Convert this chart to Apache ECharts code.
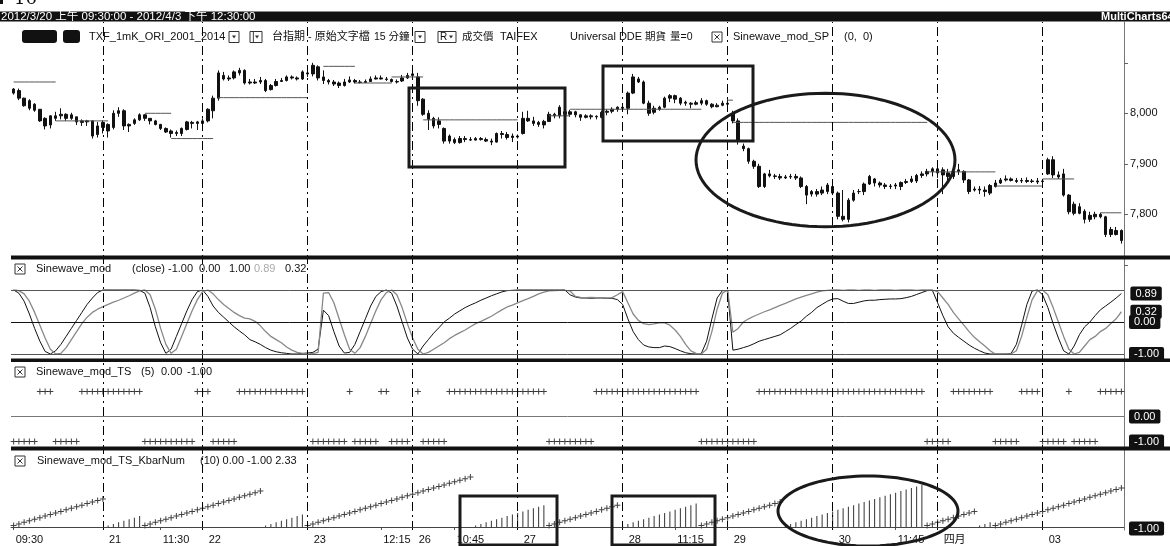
<!DOCTYPE html>
<html><head><meta charset="utf-8">
<script src="https://cdn.jsdelivr.net/npm/echarts@6/dist/echarts.min.js"></script>
<style>html,body{margin:0;padding:0;background:#fff;}#c{width:1170px;height:546px;}</style>
</head><body><div id="c"></div>
<script>
// ---------- DATA ----------
const dayDefs = [['03/20',17,'09:30'],['03/21',19,'08:45'],['03/22',20,'08:45'],['03/23',20,'08:45'],['03/26',20,'08:45'],['03/27',20,'08:45'],['03/28',20,'08:45'],['03/29',20,'08:45'],['03/30',20,'08:45'],['04/02',20,'08:45'],['04/03',16,'08:45']];
const axisMarks = {0:['t','09:30'],17:['d','21'],28:['t','11:30'],36:['d','22'],56:['d','23'],70:['t','12:15'],76:['d','26'],84:['t','10:45'],96:['d','27'],116:['d','28'],126:['t','11:15'],136:['d','29'],156:['d','30'],168:['t','11:45'],176:['d','四月'],196:['d','03']};
const dayStarts = [17,36,56,76,96,116,136,156,176,196];

const opens = [8048,8045,8030,8025,8018,8008,7990,7977,7990,7995,7998,7990,7993,7985,7983,7985,7958,
7972,7978,7972,8000,8005,7978,7980,7987,7997,7990,7985,7978,7970,7965,7960,7960,7968,7982,7980,
7980,7985,8005,8030,8075,8068,8070,8080,8085,8062,8060,8062,8065,8047,8055,8063,8065,8072,8070,8068,
8080,8078,8092,8072,8065,8062,8060,8055,8062,8065,8062,8061,8063,8068,8070,8068,8067,8063,8064,8070,
8078,8072,8028,8000,7990,7985,7970,7955,7948,7942,7950,7948,7947,7950,7948,7945,7943,7960,7958,7952,
7955,7960,7990,7985,7982,7977,7984,7998,7995,8003,7998,8003,7997,7992,7995,7993,7992,8002,8004,8008,
8012,8010,8040,8068,8062,8020,8002,8008,8012,8030,8035,8030,8022,8020,8018,8020,8025,8018,8013,8016,
8020,8000,7985,7935,7930,7905,7895,7855,7880,7876,7875,7872,7874,7875,7872,7855,7840,7845,7842,7845,
7855,7842,7796,7790,7828,7845,7845,7860,7870,7862,7858,7855,7856,7855,7863,7865,7866,7877,7880,7885,
7890,7888,7882,7875,7885,7885,7868,7848,7850,7848,7842,7855,7862,7868,7870,7867,7866,7867,7865,7866,
7865,7880,7908,7878,7880,7838,7820,7802,7806,7790,7795,7800,7795,7770,7760,7768];
const closes = [8040,8030,8015,8010,8006,7985,7975,7995,7995,7998,7990,7997,7983,7982,7985,7955,7975,
7982,7965,8000,8005,7975,7975,7987,7997,7990,7985,7978,7970,7963,7960,7962,7970,7983,7980,7983,
7985,8008,8030,8080,8068,8070,8082,8085,8060,8060,8062,8065,8045,8055,8063,8065,8072,8070,8068,8082,
8078,8095,8070,8065,8062,8058,8055,8062,8066,8062,8061,8063,8068,8070,8068,8067,8063,8062,8070,8075,
8075,8025,7998,7988,7975,7978,7945,7945,7942,7950,7948,7947,7950,7948,7945,7943,7960,7958,7952,7955,
7953,7990,7985,7980,7978,7984,7998,7995,8012,7998,8003,7997,7992,7995,7993,7994,8002,8004,8008,8012,
8010,8040,8072,8062,8020,8000,8010,8012,8030,8035,8028,8020,8020,8018,8021,8025,8018,8013,8016,8020,
8018,7985,7945,7930,7905,7895,7855,7880,7876,7875,7872,7874,7875,7872,7855,7838,7845,7840,7848,7858,
7842,7796,7790,7828,7842,7845,7860,7875,7862,7858,7855,7856,7858,7863,7865,7870,7877,7880,7885,7890,
7882,7878,7875,7885,7888,7868,7845,7850,7848,7845,7857,7862,7868,7870,7867,7865,7867,7865,7866,7864,
7866,7908,7878,7874,7838,7805,7802,7815,7790,7798,7800,7795,7760,7760,7768,7748];
const lows = [8037,8026,8013,8006,8003,7983,7968,7970,7985,7988,7985,7987,7977,7975,7975,7950,7952,
7960,7952,7968,7993,7967,7963,7977,7985,7985,7978,7976,7967,7961,7952,7955,7955,7966,7970,7967,
7970,7982,7990,8025,8065,8064,8067,8075,8057,8057,8058,8058,8042,8045,8053,8062,8063,8067,8065,8066,
8072,8073,8065,8058,8057,8054,8050,8053,8060,8059,8059,8060,8062,8067,8067,8064,8061,8059,8062,8068,
8068,8015,7995,7967,7970,7970,7940,7940,7939,7940,7943,7945,7946,7946,7943,7937,7942,7950,7948,7943,
7950,7958,7983,7975,7973,7970,7983,7990,7990,7990,7993,7992,7985,7990,7988,7988,7990,7996,8000,8003,
8006,7998,8038,8060,8018,7995,7998,8005,8010,8022,8020,8016,8015,8010,8016,8016,8015,8010,8012,8014,
8010,7980,7938,7925,7900,7890,7852,7852,7873,7870,7868,7870,7870,7868,7852,7820,7835,7835,7838,7840,
7838,7790,7786,7784,7825,7840,7838,7858,7855,7853,7850,7850,7850,7848,7860,7862,7862,7872,7875,7875,
7872,7840,7860,7870,7878,7862,7840,7845,7840,7835,7838,7853,7860,7865,7865,7862,7862,7862,7862,7860,
7860,7878,7872,7870,7835,7800,7798,7800,7782,7785,7790,7792,7755,7755,7758,7742];
const highs = [8050,8049,8031,8028,8020,8008,7992,7996,8003,8010,8000,8001,7993,7988,7987,7986,7983,
7986,7980,8006,8012,8008,7980,7990,8000,7998,7990,7987,7979,7972,7968,7966,7972,7985,7985,7985,
7990,8010,8035,8085,8082,8075,8085,8090,8087,8068,8068,8072,8068,8058,8068,8070,8075,8075,8073,8085,
8090,8100,8095,8085,8068,8066,8063,8068,8073,8068,8066,8067,8073,8075,8075,8072,8069,8067,8076,8080,
8095,8080,8030,8006,7993,7992,7972,7958,7952,7955,7955,7953,7953,7953,7952,7950,7962,7965,7963,7960,
7958,8003,8005,7993,7985,7987,8003,8001,8016,8005,8007,8005,7998,7998,7998,7996,8005,8008,8012,8014,
8018,8043,8078,8072,8065,8025,8015,8015,8033,8038,8037,8032,8025,8022,8025,8030,8027,8020,8020,8025,
8028,8005,7990,7940,7932,7908,7900,7882,7888,7880,7880,7878,7880,7880,7875,7858,7848,7850,7855,7862,
7864,7845,7848,7832,7848,7850,7863,7878,7872,7865,7862,7860,7862,7865,7870,7876,7880,7885,7890,7893,
7897,7893,7890,7890,7900,7887,7870,7855,7856,7855,7860,7868,7872,7877,7873,7872,7872,7873,7870,7872,
7870,7912,7915,7885,7890,7840,7825,7822,7810,7805,7805,7803,7797,7775,7775,7770];

// Sinewave_mod_SP support/resistance levels: [firstBar, lastBar, price]
const spLevels = [[0,8,8062],[8,18,7985],[25,30,8000],[30,38,7950],[39,56,8031],[59,65,8093],[65,72,8060],[72,78,8072],[78,96,7987],[102,106,7995],[106,131,8008],[136,137,8026],[137,174,7982],[174,187,7884],[187,196,7856],[196,202,7870],[207,211,7803]];

const sineLead = [1.0,0.9,0.65,0.25,-0.2,-0.6,-0.92,-1.0,-0.9,-0.7,-0.45,-0.2,0.05,0.3,0.55,0.75,0.92,1.0,1.0,1.0,
1.0,1.0,1.0,1.0,0.99,0.9,0.45,-0.15,-0.65,-0.98,-0.85,-0.45,-0.05,0.35,0.7,0.95,1.0,0.8,0.5,0.3,
0.15,0.0,-0.15,-0.28,-0.4,-0.55,-0.62,-0.7,-0.8,-0.88,-0.93,-0.96,-0.98,-1.0,-1.0,-0.98,-0.97,-0.95,-0.85,0.37,
0.2,-0.3,-0.75,-0.97,-0.95,-0.7,-0.3,0.1,0.5,0.8,0.95,1.0,0.9,0.5,0.0,-0.5,-0.85,-1.0,-0.75,-0.55,
-0.35,-0.18,0.0,0.12,0.25,0.35,0.45,0.53,0.6,0.68,0.75,0.82,0.88,0.94,0.98,0.99,1.0,1.0,1.0,1.0,
1.0,1.0,1.0,1.0,1.0,1.0,0.85,0.78,0.75,0.75,0.74,0.75,0.75,0.74,0.74,0.7,0.55,0.1,-0.3,-0.55,
-0.72,-0.78,-0.8,-0.8,-0.75,-0.77,-0.83,-0.9,-0.96,-0.99,-1.0,-0.98,-0.6,0.1,0.75,0.98,0.98,-0.88,-0.85,-0.8,
-0.75,-0.68,-0.6,-0.55,-0.5,-0.45,-0.4,-0.3,-0.2,-0.08,0.03,0.18,0.3,0.45,0.55,0.65,0.72,0.73,0.65,0.58,
0.58,0.62,0.66,0.68,0.68,0.7,0.71,0.72,0.72,0.73,0.76,0.8,0.86,0.92,0.98,0.99,0.6,0.2,-0.15,-0.35,
-0.48,-0.6,-0.72,-0.82,-0.9,-0.97,-1.0,-1.0,-1.0,-1.0,-0.98,-0.7,-0.1,0.55,0.97,1.0,0.85,0.45,-0.05,-0.5,
-0.9,-1.0,-0.75,-0.4,-0.15,0.0,0.2,0.38,0.5,0.62,0.75,0.89];
const sineLag = [1.0,0.98,0.88,0.65,0.3,-0.1,-0.5,-0.85,-1.0,-0.98,-0.8,-0.55,-0.3,-0.05,0.15,0.3,0.4,0.48,0.55,0.62,
0.68,0.75,0.82,0.9,0.97,1.0,0.85,0.4,-0.2,-0.7,-0.98,-0.85,-0.45,-0.05,0.35,0.7,0.95,1.0,0.88,0.7,
0.55,0.42,0.3,0.2,0.12,0.1,0.02,-0.12,-0.3,-0.45,-0.55,-0.65,-0.78,-0.88,-0.95,-0.98,-0.99,-0.99,-0.95,0.9,
0.92,0.6,0.1,-0.4,-0.85,-0.98,-0.8,-0.45,-0.05,0.35,0.7,0.92,1.0,0.85,0.45,-0.05,-0.5,-0.85,-1.0,-0.95,
-0.85,-0.75,-0.65,-0.52,-0.42,-0.33,-0.25,-0.15,-0.05,0.02,0.1,0.18,0.28,0.38,0.47,0.53,0.6,0.67,0.73,0.8,
0.88,0.93,0.97,0.98,0.99,0.99,0.97,0.8,0.77,0.76,0.77,0.76,0.76,0.75,0.76,0.85,0.95,0.6,0.25,0.05,
-0.05,-0.08,-0.06,-0.03,-0.03,-0.1,-0.25,-0.45,-0.7,-0.9,-0.98,-1.0,-0.85,-0.3,0.4,0.9,1.0,-0.32,-0.2,0.0,
0.1,0.18,0.25,0.32,0.38,0.45,0.52,0.58,0.65,0.72,0.78,0.83,0.88,0.93,0.97,0.99,1.0,1.0,0.99,1.0,
1.0,0.99,1.0,1.0,0.99,1.0,1.0,1.0,0.99,1.0,1.0,1.0,0.99,1.0,1.0,1.0,0.95,0.75,0.55,0.3,
0.1,-0.1,-0.3,-0.48,-0.62,-0.75,-0.9,-1.0,-1.0,-1.0,-1.0,-0.9,-0.45,0.15,0.7,0.97,1.0,0.85,0.45,0.0,
-0.45,-0.85,-1.0,-0.95,-0.75,-0.55,-0.45,-0.3,-0.2,-0.05,0.1,0.32];

// Sinewave_mod_TS state: [firstBar, lastBar, value]
const tsStates = [[0,4,-1],[5,7,1],[8,12,-1],[13,24,1],[25,34,-1],[35,37,1],[38,42,-1],[43,55,1],[57,63,-1],[64,64,1],[65,69,-1],[70,71,1],[72,75,-1],[77,77,1],[78,82,-1],[83,101,1],[102,110,-1],[111,130,1],[131,141,-1],[142,173,1],[174,178,-1],[179,186,1],[187,191,-1],[192,195,1],[196,200,-1],[201,201,1],[202,206,-1],[207,211,1]];

// Sinewave_mod_TS_KbarNum: bar count of current mode
const kbarNum = [1,2,3,4,5,6,7,8,9,10,11,12,13,14,15,16,17,18,
1,2,3,4,5,6,7,
1,2,3,4,5,6,7,8,9,10,11,12,13,14,15,16,17,18,19,20,21,22,23,
1,2,3,4,5,6,7,8,
1,2,3,4,5,6,7,8,9,10,11,12,13,14,15,16,17,18,19,20,21,22,23,24,25,26,27,28,29,30,31,32,
1,2,3,4,5,6,7,8,9,10,11,12,13,14,
1,2,3,4,5,6,7,8,9,10,11,12,13,14,
1,2,3,4,5,6,7,8,9,10,11,12,13,14,15,
1,2,3,4,5,6,7,8,9,10,11,12,13,14,15,16,
1,2,3,4,5,6,7,8,9,10,11,12,13,14,15,16,17,18,19,20,21,22,23,24,25,26,27,
1,2,3,4,5,6,7,8,9,10,
1,2,3,
1,2,3,4,5,6,7,8,9,10,11,12,13,14,15,16,17,18,19,20,21,22,23,24,25];
const cycleRanges = [[18,24],[48,55],[88,101],[116,130],[147,173],[184,186]];

// ---------- BUILD ----------
const cats = [];
dayDefs.forEach(([d,n,st])=>{const [h,m]=st.split(':').map(Number);for(let k=0;k<n;k++){const t=h*60+m+15*k;cats.push(d+' '+String(Math.floor(t/60)).padStart(2,'0')+':'+String(t%60).padStart(2,'0'));}});
const N = cats.length;
const candle = cats.map((c,i)=>[opens[i],closes[i],lows[i],highs[i]]);
const spA = new Array(N).fill(null), spB = new Array(N).fill(null);
spLevels.forEach(([a,b,p],k)=>{const arr=k%2?spB:spA;for(let i=a;i<=b;i++)arr[i]=p;});
const ts = new Array(N).fill(null);
tsStates.forEach(([a,b,v])=>{for(let i=a;i<=b;i++)ts[i]=v;});
const isCycle = new Array(N).fill(false);
cycleRanges.forEach(([a,b])=>{for(let i=a;i<=b;i++)isCycle[i]=true;});
const kTrend = kbarNum.map((v,i)=>isCycle[i]?null:v);
const kCycle = kbarNum.map((v,i)=>isCycle[i]?v:null);

const F = '"Liberation Sans","Noto Sans CJK TC",sans-serif';
const PLUS = 'path://M2.5,0H3.5V2.5H6V3.5H3.5V6H2.5V3.5H0V2.5H2.5Z';
const L = 11, R = 46;
const CLEAR = 'rgba(0,0,0,0)';

function xAx(idx, show){
  const o = {type:'category',gridIndex:idx,data:cats,boundaryGap:true,show:!!show,
    axisLine:{show:!!show,lineStyle:{color:'#555'}},axisTick:{show:false},axisLabel:{show:false},splitLine:{show:false}};
  if(show){
    o.axisTick={show:true,interval:(i)=>axisMarks[i]!==undefined,alignWithLabel:true,length:3,lineStyle:{color:'#555'}};
    o.axisLabel={show:true,interval:(i)=>axisMarks[i]!==undefined,align:'left',margin:4,color:'#111',fontSize:11,fontFamily:F,
      formatter:(v,i)=>{const m=axisMarks[i];return m?('{'+m[0]+'|'+m[1]+'}'):'';},
      rich:{d:{padding:[0,0,0,6],fontSize:11,fontFamily:F,color:'#111'},t:{padding:[0,0,0,2],fontSize:11,fontFamily:F,color:'#111'}}};
  }
  return o;
}
function tag(txt){return {show:true,position:'end',formatter:txt,color:'#fff',backgroundColor:'#111',padding:[2,5,1,5],fontSize:11,fontFamily:F,distance:5,borderRadius:2};}
function hline(y,color,label){return {yAxis:y,lineStyle:{color:color,width:1,type:'solid'},label:label?tag(label):{show:false}};}

const endLbl = {show:true,formatter:(p)=>Number(p.value).toFixed(2),color:'#fff',backgroundColor:'#111',padding:[2,5,1,5],fontSize:11,fontFamily:F,distance:9,borderRadius:2};
const series = [
  {type:'line',xAxisIndex:0,yAxisIndex:0,data:[],silent:true,
   markLine:{silent:true,symbol:['none','none'],animation:false,label:{show:false},
     lineStyle:{color:'#000',width:1,type:[9,4,2,4]},data:dayStarts.map(i=>({xAxis:cats[i]}))}},
  {type:'candlestick',xAxisIndex:1,yAxisIndex:1,data:candle,barWidth:3,
   itemStyle:{color:'#111',color0:'#111',borderColor:'#111',borderColor0:'#111',borderWidth:1}},
  {type:'line',xAxisIndex:1,yAxisIndex:1,data:spA,symbol:'none',connectNulls:false,lineStyle:{color:'#555',width:1}},
  {type:'line',xAxisIndex:1,yAxisIndex:1,data:spB,symbol:'none',connectNulls:false,lineStyle:{color:'#555',width:1}},
  {type:'line',xAxisIndex:2,yAxisIndex:2,data:sineLead,symbol:'none',lineStyle:{color:'#111',width:1},endLabel:endLbl,
   markLine:{silent:true,symbol:['none','none'],animation:false,data:[hline(1,'#555'),hline(0,'#111','0.00'),hline(-1,'#555','-1.00')]}},
  {type:'line',xAxisIndex:2,yAxisIndex:2,data:sineLag,symbol:'none',lineStyle:{color:'#888',width:1.3},endLabel:endLbl},
  {type:'scatter',xAxisIndex:3,yAxisIndex:3,data:ts,symbol:PLUS,symbolSize:6,itemStyle:{color:'#111'},
   markLine:{silent:true,symbol:['none','none'],animation:false,data:[hline(0,'#777','0.00'),hline(-1,CLEAR,'-1.00')]}},
  {type:'bar',xAxisIndex:4,yAxisIndex:4,data:kCycle,barWidth:1,itemStyle:{color:'#333'},
   markLine:{silent:true,symbol:['none','none'],animation:false,data:[hline(0,'#444'),hline(-1,CLEAR,'-1.00')]}},
  {type:'scatter',xAxisIndex:4,yAxisIndex:4,data:kTrend,symbol:PLUS,symbolSize:6,itemStyle:{color:'#111'}}
];

// ---------- GRAPHIC (frame, titles, annotations) ----------
const G = [];
function T(x,y,s,size,color,weight,family){G.push({type:'text',x:x,y:y,z:200,silent:true,style:{text:s,fill:color||'#111',font:(weight||'normal')+' '+(size||11)+'px '+(family||F),textAlign:'left',textVerticalAlign:'middle',align:'left',verticalAlign:'middle'}});}
function XB(x,y){G.push({type:'rect',z:200,shape:{x:x,y:y-5,width:10,height:10},style:{fill:'#fff',stroke:'#333',lineWidth:1}});
  G.push({type:'line',z:201,shape:{x1:x+2.5,y1:y-2.5,x2:x+7.5,y2:y+2.5},style:{stroke:'#333',lineWidth:1}});
  G.push({type:'line',z:201,shape:{x1:x+7.5,y1:y-2.5,x2:x+2.5,y2:y+2.5},style:{stroke:'#333',lineWidth:1}});}
function DD(x,y,w,pre){G.push({type:'rect',z:200,shape:{x:x,y:y-5.5,width:w,height:11},style:{fill:'#fff',stroke:'#333',lineWidth:1}});
  const tx=x+w-7;G.push({type:'polygon',z:201,shape:{points:[[tx,y-1.5],[tx+4,y-1.5],[tx+2,y+1.5]]},style:{fill:'#333'}});
  if(pre) T(x+2,y,pre,10);}
function rectA(x1,y1,x2,y2){G.push({type:'rect',z:300,silent:true,shape:{x:x1,y:y1,width:x2-x1,height:y2-y1},style:{fill:null,stroke:'#1a1a1a',lineWidth:3}});}
function ellA(cx,cy,rx,ry){const pts=[];for(let k=0;k<96;k++){const a=k/96*Math.PI*2;pts.push([cx+rx*Math.cos(a),cy+ry*Math.sin(a)]);}
  G.push({type:'polygon',z:300,silent:true,shape:{points:pts},style:{fill:null,stroke:'#1a1a1a',lineWidth:3}});}

// caption remnant
G.push({type:'rect',z:200,shape:{x:0,y:0,width:3,height:4},style:{fill:'#111'}});
G.push({type:'text',x:14,y:8,z:200,style:{text:'16',fill:'#111',font:'18px "DejaVu Serif",serif',textAlign:'left',textVerticalAlign:'bottom',align:'left',verticalAlign:'bottom'}});
// header bar
G.push({type:'rect',z:190,shape:{x:0,y:11.5,width:1170,height:10},style:{fill:'#111'}});
T(1,16.5,'2012/3/20 上午 09:30:00 - 2012/4/3 下午 12:30:00',11.5,'#fff');
T(1101,16.5,'MultiCharts64',11,'#fff','bold');
// legend line
G.push({type:'rect',z:200,shape:{x:22,y:30,width:35,height:13,r:3},style:{fill:'#111'}});
G.push({type:'rect',z:200,shape:{x:63,y:30,width:17,height:13,r:3},style:{fill:'#111'}});
T(89,37,'TXF_1mK_ORI_2001_2014');
DD(229,37,10);
DD(250,37,12,'|');
T(272,37,'台指期 - 原始文字檔');
T(374,37,'15 分鐘',10.5);
DD(415,37,10);
DD(438,37,18,'R');
T(462,37,'成交價',10.5);
T(500,37,'TAIFEX');
T(570,37,'Universal DDE');
T(645,37,'期貨',10.5);
T(670,37,'量=0',10.5);
XB(712,37);
T(733,37,'Sinewave_mod_SP');
T(844,37,'(0,  0)');
// panel titles
XB(15,269); T(36,269,'Sinewave_mod'); T(132,269,'(close)'); T(168,269,'-1.00'); T(199,269,'0.00'); T(229,269,'1.00'); T(254,269,'0.89',11,'#aaa'); T(285,269,'0.32');
XB(15,372); T(36,372,'Sinewave_mod_TS'); T(141,372,'(5)'); T(161,372,'0.00'); T(187,372,'-1.00');
XB(15,461); T(37,461,'Sinewave_mod_TS_KbarNum'); T(200,461,'(10) 0.00 -1.00 2.33');
// separators
G.push({type:'rect',z:250,shape:{x:11,y:255.5,width:1159,height:4},style:{fill:'#111'}});
G.push({type:'rect',z:250,shape:{x:11,y:358.5,width:1159,height:3.5},style:{fill:'#111'}});
G.push({type:'rect',z:250,shape:{x:11,y:446.5,width:1159,height:4},style:{fill:'#111'}});
// annotations
rectA(409,88,565,167); rectA(603,66,753,141); ellA(825.5,160,129.5,66.7);
rectA(460,496,557,545); rectA(612,496,715,545); ellA(868,511,90,35);

const option = {
  animation:false,
  backgroundColor:'#fff',
  textStyle:{fontFamily:F},
  grid:[
    {left:L,right:R,top:22,bottom:16},
    {left:L,right:R,top:12.3,height:252.5},
    {left:L,right:R,top:259,height:99},
    {left:L,right:R,top:362,height:85},
    {left:L,right:R,top:450,height:80}
  ],
  xAxis:[xAx(0),xAx(1),xAx(2),xAx(3),xAx(4,true)],
  yAxis:[
    {type:'value',gridIndex:0,min:0,max:1,position:'right',axisLine:{show:true,lineStyle:{color:'#777'}},axisTick:{show:false},axisLabel:{show:false},splitLine:{show:false}},
    {type:'value',gridIndex:1,min:7700,max:8200,interval:100,position:'right',axisLine:{show:false},
     axisTick:{show:true,length:4,lineStyle:{color:'#666'}},splitLine:{show:false},
     axisLabel:{show:true,margin:6,color:'#111',fontSize:11,fontFamily:F,formatter:(v)=>(v>=7800&&v<=8000)?(v/1000|0)+','+String(v%1000).padStart(3,'0'):''}},
    {type:'value',gridIndex:2,min:-1.125,max:1.96875,show:false,splitLine:{show:false}},
    {type:'value',gridIndex:3,min:-1.22,max:2.18,show:false,splitLine:{show:false}},
    {type:'value',gridIndex:4,min:-1.923,max:49.36,show:false,splitLine:{show:false}}
  ],
  series:series,
  graphic:{elements:G}
};
const chart = echarts.init(document.getElementById('c'),null,{renderer:'canvas'});
chart.setOption(option);
</script></body></html>
